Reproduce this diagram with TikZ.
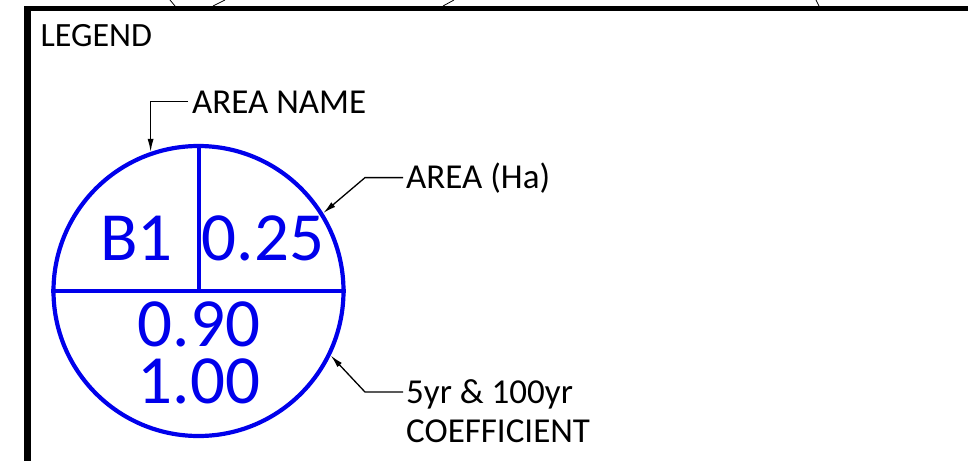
\documentclass[tikz,border=0pt]{standalone}
\usepackage{fontspec}
\setmainfont{Carlito}
\usepackage{tikz}
\usetikzlibrary{positioning,arrows.meta}

\definecolor{planblue}{RGB}{0,0,235}

\begin{document}
\begin{tikzpicture}[
  x=1pt, y=-1pt,
  frame/.style={line width=5pt, black},
  sketch/.style={line width=0.8pt, black},
  ring/.style={circle, draw=planblue, line width=4.2pt, minimum size=290pt, inner sep=0pt},
  divider/.style={draw=planblue, line width=4pt},
  num/.style={text=planblue, inner sep=0pt, font=\fontsize{69}{57}\selectfont},
  lbl/.style={inner sep=0pt, font=\fontsize{35}{39}\selectfont},
  leader/.style={line width=1.3pt, -{Latex[length=13pt,width=6pt]}}
]
\useasboundingbox (0,0) rectangle (968,461);

% ======================================================
% =============== SHEET FRAME ==========================
% ======================================================
\draw[frame] (24.5,8.5) -- (968,8.5);
\draw[frame, line width=7pt] (27,6) -- (27,461);

% bits of the plan above the frame
\draw[sketch] (170,0) -- (175,6);
\draw[sketch] (213,6) -- (225,0);
\draw[sketch] (443,6) -- (454,0);
\draw[sketch] (816,0) -- (819,6);

\node[lbl, anchor=base west, font=\fontsize{34}{39}\selectfont] (legend) at (40.5,46) {LEGEND};

% ======================================================
% =============== AREA SYMBOL ==========================
% ======================================================
\node[ring] (ring) at (198.5,291) {};
\draw[divider] (ring.west) -- (ring.east);
\draw[divider] (ring.north) -- (ring.center);

\node[num, anchor=base] (aname) at (136.5,260) {B1};
\node[num, anchor=base] (asize) at (263,260) {0.25};
\node[num, anchor=base, align=center] (coef) at (199,403) {0.90\\1.00};

% labels
\node[lbl, anchor=base west] (namelbl) at (192,113) {AREA NAME};
\node[lbl, anchor=base west] (sizelbl) at (406,188) {AREA (Ha)};
\node[lbl, anchor=base west, align=left] (coeflbl) at (406,442) {5yr \& 100yr\\COEFFICIENT};

% leaders
\draw[leader] ([xshift=-4pt]namelbl.west) -- (ring.109 |- namelbl.west) -- (ring.109);
\draw[leader] ([xshift=-3pt]sizelbl.west) -- ++(-38,0) -- (ring.32);
\draw[leader] ([xshift=-3pt,yshift=50pt]coeflbl.base west) -- ++(-38,0) -- (ring.-26);
\end{tikzpicture}
\end{document}
